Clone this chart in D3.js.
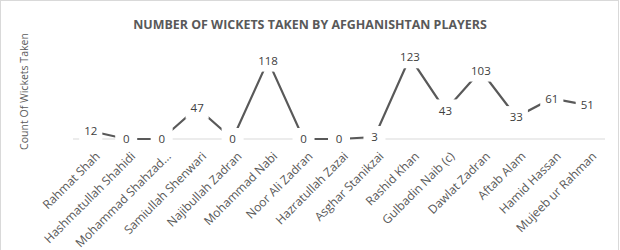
<!DOCTYPE html>
<html><head><meta charset="utf-8">
<script src="https://cdn.jsdelivr.net/npm/d3@7"></script>
<style>body{margin:0;background:#fff;} svg{display:block;font-family:"Open Sans","Liberation Sans",sans-serif;}</style>
</head><body>
<svg id="c" width="620" height="250"></svg>
<script>
const players = ["Rahmat Shah","Hashmatullah Shahidi","Mohammad  Shahzad...","Samiullah Shenwari","Najibullah Zadran","Mohammad Nabi","Noor Ali Zadran","Hazratullah Zazai","Asghar Stanikzai","Rashid Khan","Gulbadin Naib (c)","Dawlat Zadran","Aftab Alam","Hamid Hassan","Mujeeb ur Rahman"];
const wickets = [12,0,0,47,0,118,0,0,3,123,43,103,33,61,51];
const titleText = "NUMBER OF WICKETS TAKEN BY AFGHANISHTAN PLAYERS";
const yTitle = "Count Of Wickets Taken";

const svg = d3.select("#c");
svg.append("rect").attr("x",0.5).attr("y",0.5).attr("width",618).attr("height",270)
  .attr("fill","#fff").attr("stroke","#d9d9d9");

const x = d3.scaleBand().domain(players).range([73,605]);
const y = d3.scaleLinear().domain([0,140]).range([139,46]);
const cx = d => x(d) + x.bandwidth()/2;

function fit(sel, target){
  const w = sel.node().getComputedTextLength();
  const fs = parseFloat(sel.attr("font-size"));
  sel.attr("font-size", (fs*target/w).toFixed(2));
}

const t = svg.append("text").attr("x",310).attr("y",29).attr("text-anchor","middle")
  .attr("font-size",14).attr("font-weight","bold").attr("fill","#595959").text(titleText);
fit(t,354);

const yl = svg.append("text").attr("transform","translate(28,91.5) rotate(-90)")
  .attr("text-anchor","middle").attr("font-size",10).attr("fill","#595959").text(yTitle);
fit(yl,117);

// baseline
svg.append("line").attr("x1",73).attr("x2",605).attr("y1",y(0)).attr("y2",y(0))
  .attr("stroke","#d9d9d9").attr("stroke-width",1);

// x axis labels
const xa = svg.append("g").attr("transform",`translate(0,${y(0)})`)
  .call(d3.axisBottom(x).tickSize(0).tickPadding(0));
xa.select(".domain").remove();
const xt = xa.selectAll("text").attr("font-size",10.5).attr("fill","#595959")
  .attr("font-family","'Open Sans','Liberation Sans',sans-serif")
  .attr("text-anchor","end").attr("dy","0.35em")
  .attr("transform","translate(7,15) rotate(-45)");
// scale label font so "Hashmatullah Shahidi" is ~123px long
const ref = xt.filter(d=>d===players[1]);
const rw = ref.node().getComputedTextLength();
xt.attr("font-size",(10.5*123/rw).toFixed(2));

const data = players.map((p,i)=>({p, v:wickets[i]}));
svg.append("path").datum(data)
  .attr("d", d3.line().x(d=>cx(d.p)).y(d=>y(d.v)))
  .attr("fill","none").attr("stroke","#595959").attr("stroke-width",2.2);

const lg = svg.append("g").selectAll("g").data(data).join("g")
  .attr("transform", d=>`translate(${cx(d.p)},${y(d.v)})`);
lg.append("rect").attr("fill","#fff");
lg.append("text").attr("text-anchor","middle").attr("dy","0.36em")
  .attr("font-size",11.5).attr("fill","#404040").text(d=>d.v);
lg.each(function(){
  const g = d3.select(this);
  const w = g.select("text").node().getComputedTextLength();
  const bw = Math.max(w+10, 22);
  g.select("rect").attr("x",-bw/2).attr("y",-11).attr("width",bw).attr("height",22);
});
</script>
</body></html>
